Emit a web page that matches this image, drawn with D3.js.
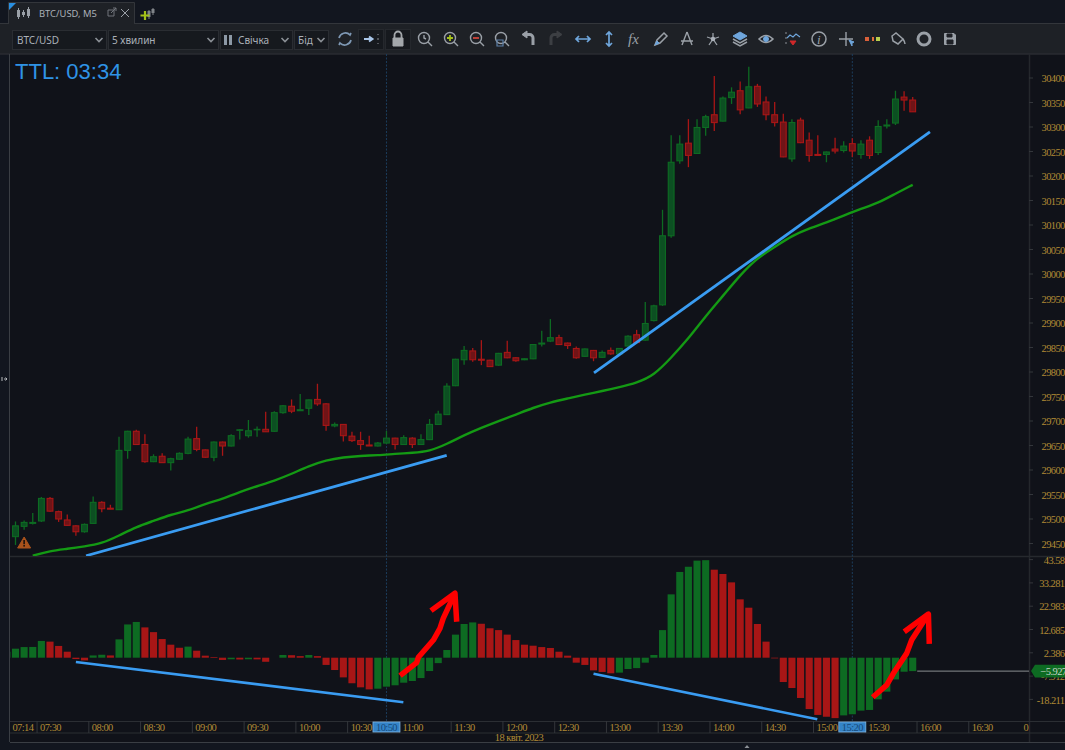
<!DOCTYPE html>
<html>
<head>
<meta charset="utf-8">
<title>BTC/USD, M5</title>
<script src="https://cdn.jsdelivr.net/npm/d3@7/dist/d3.min.js"></script>
<style>
  html, body { margin: 0; padding: 0; background: #12161f; overflow: hidden; }
  svg { display: block; }
  .axisLabel { font-family: "Liberation Serif", serif; font-size: 10.5px; letter-spacing: -0.6px; fill: #b08a35; }
  .ui { font-family: "Noto Sans", sans-serif; font-size: 10px; fill: #aab0b8; }
</style>
</head>
<body>
<svg id="chart" width="1065" height="750"></svg>
<script>
// Five-minute bars as [open, high, low, close], first bar 07:15 on 18 April 2023.
const ohlc = [
  [29463,29494,29446,29485],[29484,29496,29477,29492],[29490,29511,29488,29492],[29495,29544,29493,29541],
  [29541,29544,29514,29515],[29514,29516,29493,29499],[29497,29508,29485,29486],[29485,29486,29465,29473],
  [29473,29490,29471,29488],[29490,29545,29489,29533],[29533,29535,29513,29520],[29521,29528,29519,29519],
  [29518,29667,29518,29639],[29639,29679,29622,29678],[29678,29681,29650,29651],[29651,29672,29614,29616],
  [29616,29631,29615,29626],[29627,29633,29614,29614],[29614,29624,29598,29622],[29621,29635,29620,29633],
  [29633,29667,29631,29662],[29663,29687,29637,29641],[29640,29641,29624,29625],[29625,29657,29617,29656],
  [29656,29657,29628,29648],[29648,29672,29647,29669],[29680,29682,29661,29681],[29669,29701,29665,29679],
  [29681,29688,29667,29682],[29682,29718,29677,29677],[29678,29719,29677,29716],[29716,29731,29714,29730],
  [29729,29743,29715,29719],[29720,29754,29720,29722],[29725,29743,29711,29742],[29743,29775,29730,29734],
  [29734,29735,29679,29690],[29689,29696,29686,29692],[29692,29693,29657,29669],[29668,29677,29656,29659],
  [29659,29677,29640,29651],[29650,29669,29648,29648],[29648,29656,29647,29654],[29654,29679,29652,29664],
  [29664,29665,29641,29651],[29651,29670,29650,29665],[29664,29666,29644,29651],[29651,29672,29650,29661],
  [29661,29703,29660,29692],[29692,29720,29691,29713],[29712,29776,29711,29770],[29771,29826,29770,29825],
  [29824,29852,29814,29843],[29842,29848,29820,29824],[29825,29864,29813,29823],[29823,29824,29809,29810],
  [29813,29838,29812,29837],[29839,29863,29827,29828],[29828,29829,29820,29822],[29824,29827,29823,29826],
  [29826,29856,29825,29855],[29856,29883,29851,29858],[29862,29907,29860,29869],[29869,29875,29854,29855],
  [29858,29859,29846,29853],[29847,29851,29826,29828],[29831,29847,29830,29846],[29843,29844,29821,29828],
  [29829,29843,29828,29839],[29843,29849,29834,29836],[29836,29848,29834,29847],[29852,29874,29851,29872],
  [29875,29885,29858,29859],[29864,29942,29863,29898],[29904,29936,29902,29934],[29936,30130,29934,30077],
  [30077,30282,30073,30227],[30230,30282,30224,30264],[30266,30315,30217,30241],[30245,30315,30244,30298],
  [30298,30324,30281,30320],[30324,30403,30291,30308],[30311,30361,30310,30358],[30359,30380,30346,30370],
  [30373,30392,30325,30334],[30338,30422,30337,30381],[30382,30387,30340,30346],[30350,30361,30313,30324],
  [30324,30350,30300,30308],[30309,30326,30237,30238],[30234,30315,30228,30308],[30313,30318,30266,30267],
  [30272,30288,30228,30241],[30243,30282,30240,30241],[30243,30249,30227,30248],[30254,30277,30245,30250],
  [30251,30270,30247,30260],[30265,30276,30238,30250],[30243,30272,30234,30264],[30272,30280,30234,30241],
  [30247,30313,30242,30300],[30301,30315,30296,30303],[30307,30373,30303,30356],[30360,30372,30332,30354],
  [30354,30360,30330,30330]
];

// Moving average sampled every ten minutes, first sample 07:25.
const maValues = [
  29424,29434,29438,29443,29449,29465,29483,29495,29508,29516,29530,29540,29554,
  29566,29577,29591,29607,29619,29625,29628,29629,29632,29634,29637,29652,29670,
  29685,29699,29712,29726,29737,29745,29753,29760,29768,29777,29792,29828,29867,
  29913,29954,29997,30032,30054,30077,30092,30104,30118,30132,30144,30163,30181
];

// Oscillator histogram, first bar 07:10. A bar is green when it rose on the one before.
const histValues = [
  2.65,3.98,4.7,4.75,7.4,7.1,5.2,2.65,-0.6,-1.2,1.0,1.3,1.0,8.1,14.7,15.8,13.4,11.3,8.25,5.75,
  4.4,4.9,3.1,0.9,0.3,-1.0,-0.7,-0.8,-0.7,-0.75,-1.8,0,1.2,1.1,0.7,1.2,0.7,-3.2,-5.45,-8.7,
  -11.3,-13.1,-14.0,-13.7,-12.8,-12.2,-11.05,-10.3,-9.0,-5.9,-2.4,3.4,10.2,14.9,15.6,15.0,13.0,12.2,10.2,7.8,
  5.75,5.3,4.7,4.3,2.65,0.9,-2.2,-3.2,-5.6,-6.3,-6.9,-6.6,-5.0,-4.6,-2.2,1.2,12.2,28.0,37.9,40.2,
  42.9,43.1,38.9,37.0,33.3,25.8,22.1,14.9,7.1,-0.3,-10.75,-13.4,-17.8,-22.7,-25.3,-26.1,-26.7,-25.5,-25.0,-23.4,
  -23.1,-18.4,-15.0,-9.6,-6.2,-5.927
];

const priceTicks = d3.range(29450, 30401, 50);
const histTicks = [43.58, 33.281, 22.983, 12.685, 2.386, -7.912, -18.211];
const timeTickLabels = ["07:30","08:00","08:30","09:00","09:30","10:00","10:30","11:00","11:30","12:00",
                        "12:30","13:00","13:30","14:00","14:30","15:00","15:30","16:00","16:30"];
const crosshairTimes = ["10:50", "15:20"];
const dateLabel = "18 квіт. 2023";

// Hand-drawn annotations, as [minutes since midnight, value on the panel's own axis].
const priceTrendLines = [[[475.9, 29424], [684.9, 29629]], [[770.3, 29797], [965, 30289]]];
const histTrendLines = [[[470, -1.9], [659.8, -19.7]], [[770, -7.07], [899.7, -27.2]]];
const redArrows = [
  [[[657.9,-7.96],[667.5,-2.2],[668.5,0.18],[677.2,7.8],[681,13],[682.9,17.4],[689.7,28.5]],
   [[675.8,20.8],[689.7,28.5],[690.7,15.9]]],
  [[[931.8,-17.5],[939.9,-12.1],[943.8,-6.9],[951.5,1.9],[954.4,7.8],[963.7,18.9]],
   [[950.1,11.5],[964.1,19.3],[964.6,6.1]]]
];

const toMinutes = s => { const [h, m] = s.split(":").map(Number); return h * 60 + m; };
const firstBar = toMinutes("07:15");

const W = 1065, H = 750;
const plot = { left: 10, right: 1029, top: 54, split: 556, bottom: 721 };
const slot = 8.627, minutePx = slot / 5;

const colors = {
  page: "#12161f", bar: "#1e2126", plot: "#101219", line: "#2b2e33",
  green: "#0d6b22", greenFill: "#0c4f22", red: "#a81616", redFill: "#701417",
  ma: "#149a14", trend: "#3a9cf2", arrow: "#ff0000", gold: "#b08a35", cross: "#1c3d5c"
};

const x = d3.scaleLinear().domain([firstBar, firstBar + 600]).range([15.5, 15.5 + 600 * minutePx]);
const y = d3.scaleLinear().domain([29450, 30400]).range([543, 77.5]);
const yHist = d3.scaleLinear().domain([0, 43.58]).range([657.7, 559.1]);

const svg = d3.select("#chart");
const defs = svg.append("defs");
const clip = (id, cx, cy, cw, ch) => defs.append("clipPath").attr("id", id).append("rect")
  .attr("x", cx).attr("y", cy).attr("width", cw).attr("height", ch);
clip("pricePane", plot.left, plot.top, plot.right - plot.left, plot.split - plot.top);
clip("histPane", plot.left, plot.split, plot.right - plot.left, plot.bottom - plot.split);
clip("timeStrip", plot.left, plot.bottom, plot.right - plot.left, 12);

// Window chrome and panes
svg.append("rect").attr("width", W).attr("height", H).attr("fill", colors.page);
svg.append("rect").attr("x", plot.left).attr("y", plot.top).attr("width", W - plot.left).attr("height", 688).attr("fill", colors.plot);
svg.append("rect").attr("y", 23.5).attr("width", W).attr("height", 31).attr("fill", colors.bar);
const rule = (x1, y1, x2, y2, c = colors.line, w = 1) => svg.append("line")
  .attr("x1", x1).attr("y1", y1).attr("x2", x2).attr("y2", y2).attr("stroke", c).attr("stroke-width", w);
rule(0, 23.5, W, 23.5, "#33363b");
rule(0, 54, W, 54, "#2e3136");
rule(9.5, 54, 9.5, 742, "#3a3e44");
rule(plot.right + 0.5, 54, plot.right + 0.5, 742, "#24272c", 1.5);
rule(10, plot.split + 0.5, W, plot.split + 0.5, "#26292e", 1.5);
rule(10, plot.bottom + 0.5, W, plot.bottom + 0.5, "#2b2e33");
rule(10, 733, W, 733, "#2b2e33");
rule(10, 742.5, W, 742.5, "#3a3e44");

// Crosshair guides at the marked bars
svg.append("g").selectAll("line").data(crosshairTimes).join("line")
  .attr("x1", d => x(toMinutes(d))).attr("x2", d => x(toMinutes(d)))
  .attr("y1", plot.top).attr("y2", plot.bottom)
  .attr("stroke", colors.cross).attr("stroke-dasharray", "2 1.5");

// Candles
const pricePane = svg.append("g").attr("clip-path", "url(#pricePane)");
const candle = pricePane.append("g").selectAll("g").data(ohlc).join("g")
  .attr("transform", (d, i) => `translate(${x(firstBar + i * 5)},0)`);
candle.append("line")
  .attr("y1", d => y(d[1])).attr("y2", d => y(d[2]))
  .attr("stroke", d => d[3] >= d[0] ? colors.green : colors.red).attr("stroke-width", 1.3);
candle.append("rect")
  .attr("x", -2.9).attr("width", 5.8)
  .attr("y", d => y(Math.max(d[0], d[3])))
  .attr("height", d => Math.abs(y(d[0]) - y(d[3])))
  .attr("fill", d => d[3] >= d[0] ? colors.greenFill : colors.redFill)
  .attr("stroke", d => d[3] >= d[0] ? colors.green : colors.red).attr("stroke-width", 1.1);

// Moving average
pricePane.append("path").datum(maValues)
  .attr("d", d3.line().x((d, i) => x(firstBar + 10 + i * 10)).y(d => y(d)).curve(d3.curveBasis))
  .attr("fill", "none").attr("stroke", colors.ma).attr("stroke-width", 2.4);

// Warning flag on the first bars
const warn = svg.append("g").attr("transform", `translate(${x(firstBar + 5)},0)`);
warn.append("path").attr("d", "M0,537 L6.5,548 L-6.5,548 Z").attr("fill", "#a9521c").attr("stroke", "#a9521c").attr("stroke-linejoin", "round");
warn.append("rect").attr("x", -0.8).attr("y", 540).attr("width", 1.6).attr("height", 4.2).attr("fill", "#1d120c");
warn.append("rect").attr("x", -0.8).attr("y", 545).attr("width", 1.6).attr("height", 1.6).attr("fill", "#1d120c");

// Histogram
const histPane = svg.append("g").attr("clip-path", "url(#histPane)");
histPane.append("g").selectAll("rect").data(histValues).join("rect")
  .attr("x", (d, i) => x(firstBar - 5 + i * 5) - 3.55).attr("width", 7.1)
  .attr("y", d => Math.min(yHist(d), yHist(0)))
  .attr("height", d => Math.abs(yHist(d) - yHist(0)))
  .attr("fill", (d, i) => i === 0 || d >= histValues[i - 1] ? colors.green : colors.red);

// Last value line running out to the axis
const lastHist = histValues[histValues.length - 1];
rule(x(firstBar + (ohlc.length - 1) * 5) + 4.5, yHist(lastHist), plot.right, yHist(lastHist), "#8a8d90");

// Trend annotations and red arrows
const priceLine = d3.line().x(d => x(d[0])).y(d => y(d[1]));
const histLine = d3.line().x(d => x(d[0])).y(d => yHist(d[1]));
pricePane.append("g").selectAll("path").data(priceTrendLines).join("path")
  .attr("d", priceLine).attr("stroke", colors.trend).attr("stroke-width", 2.8).attr("fill", "none");
svg.append("g").selectAll("path").data(histTrendLines).join("path")
  .attr("d", histLine).attr("stroke", colors.trend).attr("stroke-width", 2.6).attr("fill", "none");
svg.append("g").selectAll("path").data(redArrows.flat()).join("path")
  .attr("d", histLine).attr("stroke", colors.arrow).attr("stroke-width", 5.5).attr("fill", "none")
  .attr("stroke-linejoin", "round");

// Price axis
const priceAxis = svg.append("g").attr("transform", `translate(${plot.right},0)`)
  .call(d3.axisRight(y).tickValues(priceTicks).tickSize(4).tickFormat(d3.format("d")));
// Oscillator axis
const histAxis = svg.append("g").attr("transform", `translate(${plot.right},0)`)
  .call(d3.axisRight(yHist).tickValues(histTicks).tickSize(4).tickFormat(d => String(d)));
[priceAxis, histAxis].forEach(a => {
  a.select(".domain").remove();
  a.selectAll("line").attr("stroke", "#33363b");
  a.selectAll("text").attr("class", "axisLabel").attr("dy", "0.55em").attr("y", -1.5);
});
priceAxis.selectAll("text").attr("x", 12.5);
histAxis.selectAll("text").attr("x", 35.5).attr("text-anchor", "end");

// Time axis
const timeClip = svg.append("g").attr("clip-path", "url(#timeStrip)");
const timeAxis = timeClip.append("g").attr("transform", `translate(0,${plot.bottom})`);
const tickX = m => x(m) - slot / 2;
timeAxis.selectAll("line").data(timeTickLabels).join("line")
  .attr("x1", d => tickX(toMinutes(d))).attr("x2", d => tickX(toMinutes(d)))
  .attr("y1", 0).attr("y2", 12).attr("stroke", "#33363b");
const timeTexts = [{ t: "07:14", m: toMinutes("07:14") }]
  .concat(timeTickLabels.map(t => ({ t, m: toMinutes(t) })))
  .concat([{ t: "0", m: toMinutes("17:00") }]);
timeAxis.selectAll("text").data(timeTexts).join("text")
  .attr("class", "axisLabel").attr("x", d => tickX(d.m) + 3).attr("y", 9.5).text(d => d.t);
const marks = timeAxis.selectAll("g.mark").data(crosshairTimes).join("g").attr("class", "mark")
  .attr("transform", d => `translate(${x(toMinutes(d))},0)`);
marks.append("rect").attr("x", -13.5).attr("y", 1).attr("width", 27).attr("height", 10)
  .attr("fill", "#3484c8").attr("stroke", "#7fb4e0").attr("stroke-width", 0.8);
marks.append("text").attr("class", "axisLabel").attr("text-anchor", "middle").attr("y", 9.5).style("fill", "#16497a").text(d => d);
svg.append("text").attr("class", "axisLabel").attr("x", 519).attr("y", 741).attr("text-anchor", "middle").text(dateLabel);

// Value tag on the oscillator axis
const tagY = yHist(lastHist);
svg.append("path")
  .attr("d", `M${plot.right + 2},${tagY} L${plot.right + 6},${tagY - 6.3} L${W},${tagY - 6.3} L${W},${tagY + 6.3} L${plot.right + 6},${tagY + 6.3} Z`)
  .attr("fill", colors.green);
svg.append("text").attr("class", "axisLabel").attr("x", plot.right + 11.5).attr("y", tagY + 3.8)
  .style("fill", "#c6d3c6").text(d3.format(".3f")(lastHist));

// Remaining bar time
svg.append("text").attr("x", 15).attr("y", 79)
  .style("font-family", '"Liberation Sans", sans-serif').style("font-size", "22px").attr("fill", "#2f93e6")
  .text("TTL: 03:34");

// Tab strip
svg.append("path").attr("d", "M8.5,24 V2.5 H134.5 V24").attr("fill", colors.bar).attr("stroke", "#33363b");
svg.append("rect").attr("x", 9).attr("y", 23).attr("width", 125).attr("height", 2).attr("fill", colors.bar);
svg.append("path").attr("d", "M9,3 H16 L9,10 Z").attr("fill", "#2a8fe0");
const ink = "#9aa0a7", blue = "#6fa6dc";
const stick = (g, px, a, b, c, d, col) => {
  g.append("line").attr("x1", px).attr("x2", px).attr("y1", a).attr("y2", d).attr("stroke", col);
  g.append("rect").attr("x", px - 1.5).attr("y", b).attr("width", 3).attr("height", c - b).attr("fill", col);
};
const tabIcon = svg.append("g");
stick(tabIcon, 18.5, 8, 10, 17, 19, ink); stick(tabIcon, 23.5, 10, 12, 15, 17, ink); stick(tabIcon, 28.5, 7, 9, 16, 18, ink);
svg.append("text").attr("class", "ui").attr("x", 39).attr("y", 17).style("font-size", "9.4px").text("BTC/USD, M5");
svg.append("path").attr("d", "M108,10 H114 V16 H108 Z M111,13 L116,8 M113,8 H116 V11").attr("fill", "none").attr("stroke", "#70757b");
svg.append("path").attr("d", "M121,9 L129,17 M129,9 L121,17").attr("fill", "none").attr("stroke", ink);
const addIcon = svg.append("g");
stick(addIcon, 149, 10, 11, 17, 19, "#808489"); stick(addIcon, 153, 8, 9, 13, 15, "#808489");
addIcon.append("path").attr("d", "M145,11 V20 M140.5,15.5 H149.5").attr("stroke", "#a3c019").attr("stroke-width", 2.2);

// Toolbar selectors
const selectors = [["BTC/USD", 12, 94, 17], ["5 хвилин", 108, 110, 112], ["Свічка", 220, 72, 238], ["Бід", 294, 34, 298]];
selectors.forEach(([label, bx, bw, tx]) => {
  svg.append("rect").attr("x", bx + 0.5).attr("y", 30.5).attr("width", bw).attr("height", 19).attr("fill", "#16191e").attr("stroke", "#2a2d32");
  svg.append("text").attr("class", "ui").attr("x", tx).attr("y", 44).text(label);
  const cx = bx + bw - 7;
  svg.append("path").attr("d", `M${cx - 3.5},38 L${cx},41.5 L${cx + 3.5},38`).attr("fill", "none").attr("stroke", "#8b9096").attr("stroke-width", 1.6);
});
const chartType = svg.append("g");
chartType.append("rect").attr("x", 224).attr("y", 35).attr("width", 3).attr("height", 10).attr("fill", "#8d99a6");
chartType.append("rect").attr("x", 229).attr("y", 35).attr("width", 3).attr("height", 10).attr("fill", "#8d99a6");

// Toolbar buttons, each a small stroked glyph centred on its slot
svg.append("rect").attr("x", 358.5).attr("y", 29.5).attr("width", 25).attr("height", 20).attr("fill", "#16191e").attr("stroke", "#25282d");
svg.append("rect").attr("x", 385.5).attr("y", 29.5).attr("width", 25).attr("height", 20).attr("fill", "#16191e").attr("stroke", "#25282d");
const glyph = (cx, d, stroke = ink, w = 1.5, fill = "none") => svg.append("path")
  .attr("transform", `translate(${cx},39)`).attr("d", d).attr("fill", fill).attr("stroke", stroke).attr("stroke-width", w);
const lens = "M4.5,-1 A5.5,5.5 0 1 1 -6.5,-1 A5.5,5.5 0 1 1 4.5,-1 M3,3 L7,7";
glyph(345, "M-6,-1 A6.5,6.5 0 0 1 5,-4 L6,-6 M6,1 A6.5,6.5 0 0 1 -5,4 L-6,6", "#7e98b4", 1.7);
glyph(369, "M-5,0 H2 M0,-2.5 L3.5,0 L0,2.5", "#a9c6e8", 2);
glyph(378, "M0,-5 V-4 M0,-1 V1 M0,4 V5", "#8b9096", 1);
glyph(398, "M-5,-1 H5 V7 H-5 Z", "#a3a7ab", 1, "#a3a7ab");
glyph(398, "M-3.5,-1 V-4 A3.5,3.5 0 0 1 3.5,-4 V-1", "#a3a7ab", 1.8);
glyph(425, lens + " M-1,-4 V-1 L1,0", ink, 1.4);
glyph(451, lens, ink, 1.4); glyph(451, "M-4,-1 H2 M-1,-4 V2", "#a3c019", 1.8);
glyph(477, lens, ink, 1.4); glyph(477, "M-4,-1 H2", "#d0453a", 1.8);
glyph(502, lens, ink, 1.4); glyph(500, "M-3,1 H3 V7 H-3 Z", "#5d80a8", 1.2);
glyph(529, "M4,6 V-1 A3.5,3.5 0 0 0 0.5,-4.5 H-3", "#9aa0a7", 3); glyph(529, "M-2,-8 L-7,-4.5 L-2,-1 Z", "#9aa0a7", 1, "#9aa0a7");
glyph(555, "M-4,6 V-1 A3.5,3.5 0 0 1 -0.5,-4.5 H3", "#3c3f43", 3); glyph(555, "M2,-8 L7,-4.5 L2,-1 Z", "#3c3f43", 1, "#3c3f43");
glyph(583, "M-6,0 H6 M-4,-3 L-7,0 L-4,3 M4,-3 L7,0 L4,3", blue, 1.7);
glyph(609, "M0,-6 V6 M-3,-4 L0,-7 L3,-4 M-3,4 L0,7 L3,4", blue, 1.7);
svg.append("text").attr("x", 628).attr("y", 44).attr("fill", ink)
  .style("font-family", '"Liberation Serif", serif').style("font-style", "italic").style("font-size", "15px").text("fx");
glyph(661, "M-6,6 L-4,1 L3,-6 L6,-3 L-1,4 Z", ink, 1.5); glyph(661, "M-6,6 L-4,2 L-2,4 Z", blue, 1, blue);
glyph(687, "M0,-7 L-5,6 M0,-7 L5,6 M-6,2 H6", ink, 1.4);
glyph(713, "M0,0 L0,-6 M0,0 L6,-2 M0,0 L4,6 M0,0 L-4,6 M0,0 L-6,-2", ink, 1.3);
glyph(713, "M-1.5,0 A1.5,1.5 0 1 1 1.5,0 A1.5,1.5 0 1 1 -1.5,0", "#aab0b8", 1.6, "#aab0b8");
glyph(740, "M-7,-3 L0,-7 L7,-3 L0,1 Z", "#6fa6dc", 1, "#6fa6dc");
glyph(740, "M-7,0 L0,4 L7,0 M-7,3 L0,7 L7,3", ink, 1.5);
glyph(766, "M-7,0 Q0,-7 7,0 Q0,7 -7,0 Z", ink, 1.6); glyph(766, "M-2.5,0 A2.5,2.5 0 1 1 2.5,0 A2.5,2.5 0 1 1 -2.5,0", blue, 1, blue);
glyph(793, "M-6,-1 L-3,-4 L0,-2 L3,-5 L7,-2", blue, 1.1); glyph(793, "M-3,2 H3 L0,6 Z", "#d0282a", 1, "#d0282a");
glyph(786, "M0,-7 V-5 M0,-2 V0 M0,3 V5", "#8b9096", 1);
glyph(819, "M7,0 A7,7 0 1 1 -7,0 A7,7 0 1 1 7,0", ink, 1.5);
svg.append("text").attr("x", 817).attr("y", 44).attr("fill", ink)
  .style("font-family", '"Liberation Serif", serif').style("font-style", "italic").style("font-size", "13px").text("i");
glyph(846, "M-7,0 H7 M0,-7 V7", ink, 1.4); glyph(849, "M0,1 L5,3 L3,4 L3,7 Z", blue, 1, blue);
glyph(868, "M-3,0 H1", "#d9603a", 4); glyph(873, "M-1,0 H1", "#e0703a", 4); glyph(878, "M-2,0 H2", "#b9cf4d", 4);
glyph(898, "M-6,-3 L-2,-6 L5,0 L0,5 L-5,2 Z M5,0 Q7,3 7,5", ink, 1.5);
glyph(924, "M6,0 A6,6 0 1 1 -6,0 A6,6 0 1 1 6,0", "#9aa0a7", 3);
glyph(950, "M-5.5,-5.5 H4 L5.5,-4 V5.5 H-5.5 Z", "#9aa0a7", 1, "#9aa0a7");
glyph(950, "M-3,-5 H2 V-2 H-3 Z M-3,1 H3 V5 H-3 Z", colors.bar, 1, colors.bar);

// Collapse handle on the left edge and resize mark at the foot
svg.append("path").attr("d", "M2,377 V381 M4,379 H7 M5.5,377.5 L7,379 L5.5,380.5").attr("stroke", "#b5b8bc").attr("fill", "none");
svg.append("path").attr("d", "M747,745 L749.5,748 H744.5 Z").attr("fill", "#8b9096");
</script>
</body>
</html>
